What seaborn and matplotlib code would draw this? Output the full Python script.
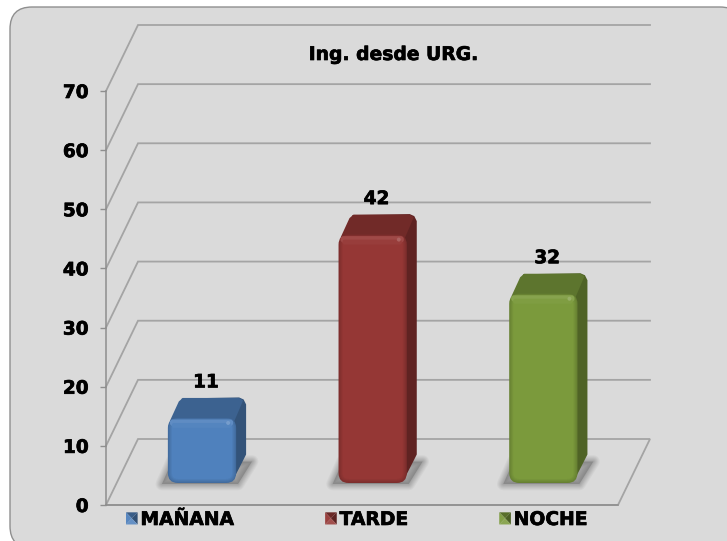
import numpy as np
import pandas as pd
import seaborn as sns
from matplotlib import pyplot as plt
from matplotlib import patheffects as pe
from matplotlib.legend_handler import HandlerBase
from matplotlib.patches import FancyBboxPatch, Patch, Polygon
from matplotlib.transforms import IdentityTransform

turnos = ['MAÑANA', 'TARDE', 'NOCHE']
ingresos = [11, 42, 32]
colores = ['#4F81BD', '#953735', '#7B9A3C']
titulo = 'Ing. desde URG.'
ticks_y = [0, 10, 20, 30, 40, 50, 60, 70]

W, H = 727, 541
GRIS = '#A4A4A4'
# fondo del grafico 3d (pixeles): profundidad total de la caja
DX, DY = 32, 66
GRUESO = [pe.withStroke(linewidth=0.5, foreground='black')]


def mezcla(c1, c2, t):
    a = np.array(plt.matplotlib.colors.to_rgb(c1))
    b = np.array(plt.matplotlib.colors.to_rgb(c2))
    return tuple(a * (1 - t) + b * t)


def px(xp, yp):
    # de pixeles de la imagen (y hacia abajo) a display
    return xp, H - yp


def poli(fig, puntos, z, **kw):
    p = Polygon([px(*q) for q in puntos], closed=True, transform=IdentityTransform(), zorder=z, **kw)
    fig.add_artist(p)
    return p


def caja(fig, x0, y0, x1, y1, r, z, color, **kw):
    p = FancyBboxPatch((x0 + r, H - y1 + r), x1 - x0 - 2 * r, y1 - y0 - 2 * r,
                       boxstyle='round,pad=%f,rounding_size=%f' % (r, r),
                       transform=IdentityTransform(), zorder=z, facecolor=color,
                       edgecolor='none', **kw)
    fig.add_artist(p)
    return p


class HandlerPiramide(HandlerBase):
    def create_artists(self, legend, orig_handle, xdescent, ydescent, width, height, fontsize, trans):
        c = orig_handle.get_facecolor()
        x0, y0 = -xdescent, -ydescent
        x1, y1 = x0 + width, y0 + height
        xc, yc = (x0 + x1) / 2, (y0 + y1) / 2
        caras = [
            ([(x0, y1), (x1, y1), (xc, yc)], mezcla(c, 'black', 0.28)),
            ([(x1, y1), (x1, y0), (xc, yc)], mezcla(c, 'black', 0.38)),
            ([(x0, y0), (x1, y0), (xc, yc)], mezcla(c, 'white', 0.12)),
            ([(x0, y1), (x0, y0), (xc, yc)], mezcla(c, 'white', 0.05)),
        ]
        return [Polygon(q, closed=True, facecolor=col, edgecolor='none', transform=trans) for q, col in caras]


plt.rcParams['font.family'] = ['DejaVu Sans']
fig = plt.figure(figsize=(W / 100, H / 100), dpi=100, facecolor='white')

# panel de fondo, se sale por la derecha y por abajo
panel = FancyBboxPatch((10 + 22, H - 548 + 22), 742 - 10 - 44, 548 - 7 - 44,
                       boxstyle='round,pad=22,rounding_size=22', transform=IdentityTransform(),
                       facecolor='#DADADA', edgecolor='#8F8F8F', linewidth=1.0, zorder=0)
fig.add_artist(panel)

ax = fig.add_axes([106 / W, 1 - 505 / H, (618 - 106) / W, (505 - 91) / H])
ax.patch.set_alpha(0)
df = pd.DataFrame({'turno': turnos, 'ingresos': ingresos})
sns.barplot(data=df, x='turno', y='ingresos', hue='turno', palette=colores, width=0.4,
            legend=False, ax=ax)
ax.set_xlim(-0.5, 2.5)
ax.set_ylim(0, 70)
ax.set_yticks(ticks_y)
ax.set_xticks([])
ax.set_xlabel('')
ax.set_ylabel('')
for s in ['top', 'right']:
    ax.spines[s].set_visible(False)
for s in ['left', 'bottom']:
    ax.spines[s].set_color('#8E8E8E')
    ax.spines[s].set_linewidth(1.1)
ax.tick_params(axis='y', length=4.5, width=1.0, color='#8E8E8E', pad=8, labelsize=13.3)
for t in ax.get_yticklabels():
    t.set_fontweight('bold')
    t.set_color('black')
    t.set_path_effects(GRUESO)
ax.set_zorder(1)

fig.canvas.draw()

# paredes y suelo
for v in ticks_y:
    xi, yi = ax.transData.transform((-0.5, v))
    xf, _ = ax.transData.transform((2.5, v))
    if v > 0:
        fig.add_artist(plt.Line2D([xi, xi + DX, xf + DX], [yi, yi + DY, yi + DY], color=GRIS, lw=1.3,
                                  transform=IdentityTransform(), zorder=0.5, solid_joinstyle='miter'))
    else:
        fig.add_artist(plt.Line2D([xi, xi + DX, xf + DX, xf, xi], [yi, yi + DY, yi + DY, yi, yi],
                                  color=GRIS, lw=1.3, transform=IdentityTransform(), zorder=0.5,
                                  solid_joinstyle='miter'))

# barras: las caras se montan sobre la geometria que calculo seaborn
for i, (bar, c) in enumerate(zip(ax.patches, colores)):
    bar.set_visible(False)
    (xa, ya), (xb, yb) = ax.transData.transform([(bar.get_x(), 0), (bar.get_x() + bar.get_width(), bar.get_height())])
    # la barra esta a un tercio de la profundidad y ocupa otro tercio
    ox, oy = DX / 3, DY / 3
    x0, x1 = xa + ox, xb + ox
    y1, y0 = H - (ya + oy), H - (yb + oy)
    dx, dy = ox - 0.7, oy - 1.5
    z = 2 + i

    # sombra sobre el suelo
    sombra = [(x0 - 6, y1 + 1), (x1 + 2, y1 + 1), (x1 + dx + 6, y1 - dy - 1), (x0 + dx - 6, y1 - dy - 1)]
    for lw, al in zip([9, 7.5, 6, 4.5, 3, 1.5], [0.07, 0.08, 0.09, 0.10, 0.11, 0.12]):
        poli(fig, sombra, z, facecolor='none', edgecolor='#6E6E6E', alpha=al, lw=lw, joinstyle='round')
    poli(fig, sombra, z, facecolor='#6E6E6E', edgecolor='none', alpha=0.5)

    # cara lateral y superior
    lateral = mezcla(c, 'black', 0.36)
    superior = mezcla(c, 'black', 0.24)
    r = 7
    poli(fig, [(x1 - r, y0), (x0 + 8, y0), (x0 + dx + 4, y0 - dy + 1), (x1 + dx - 7, y0 - dy),
               (x1 + dx - 2.5, y0 - dy + 2), (x1 + dx, y0 - dy + 7), (x1 + dx, y1 - dy - 8),
               (x1 - 2, y1 - 5), (x1 - r, y1 - 2)], z + 0.1, facecolor=lateral, edgecolor='none')
    poli(fig, [(x0 + 2, y0 + 3), (x0 + dx + 1, y0 - dy + 4), (x0 + dx + 5, y0 - dy + 0.5),
               (x1 + dx - 7, y0 - dy + 0.5), (x1 + dx - 3, y0 - dy + 3), (x1 - 3, y0 + 6)], z + 0.2,
         facecolor=superior, edgecolor='none')

    # cara frontal con bisel: rectangulos redondeados anidados
    n = 5
    for k in range(n):
        t = k / (n - 1)
        col = mezcla(mezcla(c, 'black', 0.16), c, t)
        caja(fig, x0 + k, y0 + k, x1 - k, y1 - k, max(10 - k, 3), z + 0.3 + k * 0.01, col)
    # brillo arriba y en la esquina
    caja(fig, x0 + 2, y0 + 1.5, x1 - 3, y0 + 8, 3, z + 0.4, mezcla(c, 'white', 0.09))
    caja(fig, x0 + 4, y0 + 5, x1 - 5, y0 + 10, 2, z + 0.41, mezcla(c, 'white', 0.03))
    caja(fig, x1 - 10, y0 + 3, x1 - 6, y0 + 7, 2, z + 0.42, mezcla(c, 'white', 0.22))

    fig.text(x0 + 38, yb + oy + dy + 15, str(ingresos[i]), transform=IdentityTransform(),
             ha='center', va='center', fontsize=13.3, fontweight='bold', color='black', zorder=10,
             path_effects=GRUESO)

fig.text(393.5, H - 60, titulo, transform=IdentityTransform(), ha='center', va='baseline',
         fontsize=13.5, fontweight='bold', color='black', zorder=10, path_effects=GRUESO)

handles = [Patch(facecolor=c, label=t) for c, t in zip(colores, turnos)]
leg = fig.legend(handles=handles, ncols=3, loc='lower left', bbox_to_anchor=(126 / W, 1 - 529 / H),
                 frameon=False, handler_map={Patch: HandlerPiramide()},
                 prop={'weight': 'bold', 'size': 13.5}, handlelength=0.62, handleheight=0.62,
                 handletextpad=0.15, columnspacing=4.85, borderpad=0, borderaxespad=0)
leg.set_zorder(10)
for t in leg.get_texts():
    t.set_path_effects(GRUESO)

fig.savefig('out.png', dpi=100, facecolor='white')
